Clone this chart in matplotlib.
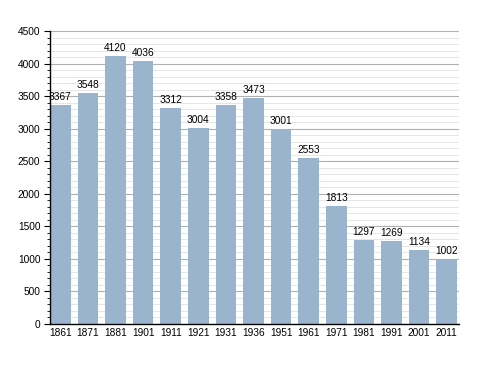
import matplotlib

matplotlib.use("Agg")
import matplotlib.pyplot as plt  # noqa: E402
from matplotlib.ticker import MultipleLocator  # noqa: E402

plt.rcParams["font.family"] = ["Liberation Sans", "DejaVu Sans"]

years = ["1861", "1871", "1881", "1901", "1911", "1921", "1931", "1936",
         "1951", "1961", "1971", "1981", "1991", "2001", "2011"]
population = [3367, 3548, 4120, 4036, 3312, 3004, 3358, 3473,
              3001, 2553, 1813, 1297, 1269, 1134, 1002]

fig = plt.figure(figsize=(4.88, 3.73), dpi=100)
ax = fig.add_axes([0.1025, 0.1314, 0.838, 0.7855])

x = range(len(years))
w = 0.75
ax.bar(x, population, width=w, color="#9bb4cd", zorder=2)
for i, v in zip(x, population):
    ax.text(i, v + 45, str(v), ha="center", va="bottom", fontsize=7.3, zorder=3)

ax.set_xlim(-w / 2, len(years) - 1 + w / 2 + 0.07)
ax.set_ylim(0, 4500)
ax.set_xticks(list(x))
ax.set_xticklabels(years, fontsize=7.3)
ax.tick_params(axis="x", length=0, pad=3)
ax.yaxis.set_major_locator(MultipleLocator(500))
ax.yaxis.set_minor_locator(MultipleLocator(100))
ax.tick_params(axis="y", which="major", length=4, width=0.8, labelsize=7.3, pad=3)
ax.tick_params(axis="y", which="minor", length=2, width=0.6)
ax.grid(axis="y", which="major", color="#b0b0b0", lw=0.8, zorder=0)
ax.grid(axis="y", which="minor", color="#e2e2e2", lw=0.6, zorder=0)
for s in ["top", "right"]:
    ax.spines[s].set_visible(False)
ax.spines["left"].set_linewidth(1.0)
ax.spines["bottom"].set_linewidth(1.0)

fig.savefig("out.png", dpi=100)
